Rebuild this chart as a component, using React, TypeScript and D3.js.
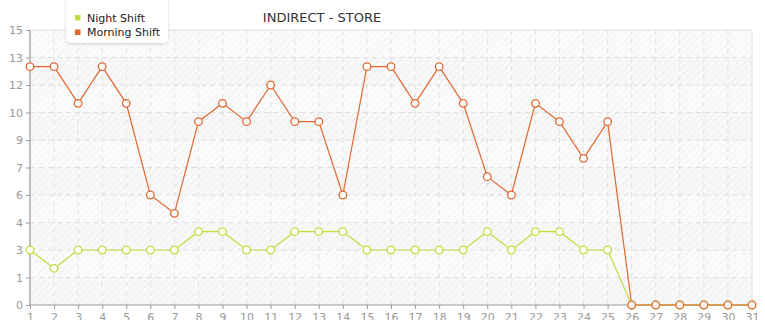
import React, { useEffect, useRef } from "react";
import * as d3 from "d3";

const days = d3.range(1, 32).map(String);
const nightShift = [3, 2, 3, 3, 3, 3, 3, 4, 4, 3, 3, 4, 4, 4, 3, 3, 3, 3, 3, 4, 3, 4, 4, 3, 3, 0, 0, 0, 0, 0, 0];
const morningShift = [13, 13, 11, 13, 11, 6, 5, 10, 11, 10, 12, 10, 10, 6, 13, 13, 11, 13, 11, 7, 6, 11, 10, 8, 10, 0, 0, 0, 0, 0, 0];
const yTicks = [0, 1.5, 3, 4.5, 6, 7.5, 9, 10.5, 12, 13.5, 15];
const seriesNames = ["Night Shift", "Morning Shift"];
const seriesColors = ["#c3dc3c", "#e0672f"];
const title = "INDIRECT - STORE";

const W = 765;
const H = 320;
const M = { left: 30, right: 13, top: 30, bottom: 15 };

export default function App() {
  const ref = useRef<SVGSVGElement>(null);

  useEffect(() => {
    const svg = d3.select(ref.current);
    svg.selectAll("*").remove();

    const x = d3.scalePoint<string>().domain(days).range([M.left, W - M.right]);
    const y = d3.scaleLinear().domain([0, 15]).range([H - M.bottom, M.top]);
    const font = "'DejaVu Sans', Verdana, sans-serif";

    const defs = svg.append("defs");
    const pat = defs
      .append("pattern")
      .attr("id", "hatch")
      .attr("patternUnits", "userSpaceOnUse")
      .attr("width", 5)
      .attr("height", 5)
      .attr("patternTransform", "rotate(45)");
    pat.append("rect").attr("width", 5).attr("height", 5).attr("fill", "#fbfbfb");
    pat.append("line").attr("x1", 0).attr("y1", 0).attr("x2", 0).attr("y2", 5).attr("stroke", "#efefef").attr("stroke-width", 1.5);

    const filter = defs.append("filter").attr("id", "shadow").attr("x", "-20%").attr("y", "-20%").attr("width", "140%").attr("height", "160%");
    filter.append("feDropShadow").attr("dx", 0).attr("dy", 1).attr("stdDeviation", 1.5).attr("flood-color", "#000").attr("flood-opacity", 0.18);

    const x0 = M.left;
    const x1 = W - M.right;

    // plot background with hatching
    svg.append("rect").attr("x", x0).attr("y", M.top).attr("width", x1 - x0).attr("height", y(0) - M.top).attr("fill", "url(#hatch)");

    // alternating horizontal bands
    for (let i = 0; i < yTicks.length - 1; i++) {
      if (i % 2 === 1) continue;
      svg
        .append("rect")
        .attr("x", x0)
        .attr("y", y(yTicks[i + 1]))
        .attr("width", x1 - x0)
        .attr("height", y(yTicks[i]) - y(yTicks[i + 1]))
        .attr("fill", "rgba(0,0,0,0.012)");
    }

    // outer frame (top/right)
    svg.append("path").attr("d", `M${x0},${M.top}H${x1}V${y(0)}`).attr("fill", "none").attr("stroke", "#e2e2e2");

    // grid
    const grid = svg.append("g").attr("stroke", "#e0e0e0").attr("stroke-dasharray", "5,4").attr("stroke-width", 1);
    days.slice(1, -1).forEach((d) => {
      grid.append("line").attr("x1", x(d)!).attr("x2", x(d)!).attr("y1", M.top).attr("y2", y(0));
    });
    yTicks.slice(1, -1).forEach((t) => {
      grid.append("line").attr("x1", x0).attr("x2", x1).attr("y1", y(t)).attr("y2", y(t));
    });

    // axes
    const yAxis = svg
      .append("g")
      .attr("transform", `translate(${x0},0)`)
      .call(
        d3
          .axisLeft(y)
          .tickValues(yTicks)
          .tickSize(4)
          .tickPadding(3)
          .tickFormat((v) => String(Math.trunc(+v)))
      );
    const xAxis = svg
      .append("g")
      .attr("transform", `translate(0,${y(0)})`)
      .call(d3.axisBottom(x).tickSize(4).tickPadding(4));
    [xAxis, yAxis].forEach((a) => {
      a.select(".domain").attr("stroke", "#999").attr("stroke-width", 1.2);
      a.selectAll(".tick line").attr("stroke", "#999");
      a.selectAll(".tick text").attr("fill", "#999").attr("font-size", 11).attr("font-family", font);
    });
    xAxis.select(".domain").attr("d", `M${x0},0H${x1}`);
    yAxis.select(".domain").attr("d", `M0,${M.top}V${y(0)}`);

    // series
    const data = [nightShift, morningShift];
    data.forEach((vals, si) => {
      const line = d3
        .line<number>()
        .x((_, i) => x(days[i])!)
        .y((v) => y(v));
      svg.append("path").datum(vals).attr("d", line).attr("fill", "none").attr("stroke", seriesColors[si]).attr("stroke-width", 1.2);
    });
    data.forEach((vals, si) => {
      svg
        .append("g")
        .selectAll("circle")
        .data(vals)
        .join("circle")
        .attr("cx", (_, i) => x(days[i])!)
        .attr("cy", (v) => y(v))
        .attr("r", 3.8)
        .attr("fill", "#fff")
        .attr("stroke", seriesColors[si])
        .attr("stroke-width", 1.3);
    });

    // title
    svg
      .append("text")
      .attr("x", 322)
      .attr("y", 22)
      .attr("text-anchor", "middle")
      .attr("font-family", font)
      .attr("font-size", 13)
      .attr("fill", "#333")
      .text(title);

    // legend
    const lg = svg.append("g");
    lg.append("rect")
      .attr("x", 66)
      .attr("y", -10)
      .attr("width", 102)
      .attr("height", 53)
      .attr("rx", 5)
      .attr("fill", "#fff")
      .attr("filter", "url(#shadow)");
    seriesNames.forEach((n, i) => {
      const ly = 21.5 + i * 14.5;
      lg.append("rect").attr("x", 75).attr("y", ly - 6.5).attr("width", 5.5).attr("height", 5.5).attr("fill", seriesColors[i]);
      lg.append("text")
        .attr("x", 87)
        .attr("y", ly)
        .attr("font-family", font)
        .attr("font-size", 11)
        .attr("fill", "#222")
        .text(n);
    });
  }, []);

  return <svg ref={ref} width={W} height={H} style={{ display: "block", position: "absolute", left: 0, top: 0 }} />;
}
